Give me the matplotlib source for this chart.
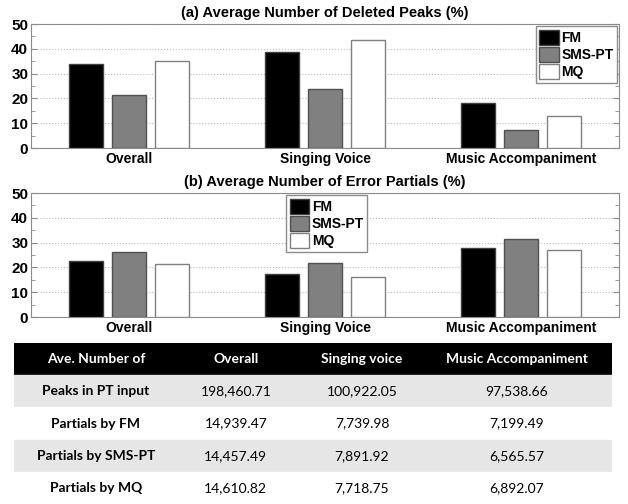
import numpy as np
import matplotlib
matplotlib.use('Agg')
import matplotlib.pyplot as plt
from matplotlib.ticker import MultipleLocator

groups = ['Overall', 'Singing Voice', 'Music Accompaniment']
methods = ['FM', 'SMS-PT', 'MQ']

deleted_fm = [33.7, 38.8, 18.0]
deleted_sms = [21.4, 23.8, 7.3]
deleted_mq = [35.1, 43.4, 13.0]

error_fm = [22.5, 17.3, 27.9]
error_sms = [26.3, 21.8, 31.6]
error_mq = [21.2, 16.1, 27.0]

table_header = ['Ave. Number of', 'Overall', 'Singing voice', 'Music Accompaniment']
row_labels = ['Peaks in PT input', 'Partials by FM', 'Partials by SMS-PT', 'Partials by MQ']
col_overall = ['198,460.71', '14,939.47', '14,457.49', '14,610.82']
col_singing = ['100,922.05', '7,739.98', '7,891.92', '7,718.75']
col_music = ['97,538.66', '7,199.49', '6,565.57', '6,892.07']

face = ['black', '#808080', 'white']
edge = ['#404040', '#505050', '#808080']
spine_col = '#8c8c8c'

fig = plt.figure(figsize=(6.28, 5.04), dpi=100)
plt.rcParams['font.family'] = ['Liberation Sans', 'DejaVu Sans']


def bar_panel(ax, series, title, legend_loc, legend_anchor):
    x = np.arange(1, len(groups) + 1)
    offsets = [-0.22, 0.0, 0.22]
    for k, vals in enumerate(series):
        ax.bar(x + offsets[k], vals, width=0.175, color=face[k],
               edgecolor=edge[k], linewidth=1.0, label=methods[k], zorder=3)
    ax.set_xlim(0.5, 3.5)
    ax.set_ylim(0, 50)
    ax.set_xticks(x)
    ax.set_xticklabels(groups, fontweight='bold', fontsize=10)
    ax.yaxis.set_major_locator(MultipleLocator(10))
    ax.yaxis.set_minor_locator(MultipleLocator(5))
    for lab in ax.get_yticklabels():
        lab.set_fontweight('bold')
        lab.set_fontsize(11)
    ax.tick_params(axis='both', which='both', direction='in', top=True,
                   right=True, color=spine_col, length=3, pad=2)
    ax.tick_params(axis='x', length=0, pad=3)
    ax.tick_params(axis='y', which='major', length=4)
    for s in ax.spines.values():
        s.set_color(spine_col)
    ax.grid(axis='y', linestyle=':', color='#bbbbbb', linewidth=0.8, zorder=0)
    ax.set_title(title, fontweight='bold', fontsize=10.5, pad=5)
    leg = ax.legend(loc=legend_loc, bbox_to_anchor=legend_anchor,
                    prop={'weight': 'bold', 'size': 10}, fancybox=False,
                    framealpha=1, edgecolor=spine_col, handlelength=1.4,
                    handleheight=1.3, handletextpad=0.2, borderpad=0.25,
                    labelspacing=0.15, borderaxespad=0.15)
    leg.get_frame().set_linewidth(1.0)


ax1 = fig.add_axes([0.0494, 0.7063, 0.9363, 0.246])
bar_panel(ax1, [deleted_fm, deleted_sms, deleted_mq],
          '(a) Average Number of Deleted Peaks (%)', 'upper right', (1.0, 1.0))

ax2 = fig.add_axes([0.0494, 0.371, 0.9363, 0.246])
bar_panel(ax2, [error_fm, error_sms, error_mq],
          '(b) Average Number of Error Partials (%)', 'upper center', (0.503, 1.0))

# table
axt = fig.add_axes([14 / 628, 0.0, 598 / 628, 161 / 504])
n_rows = len(row_labels) + 1
axt.set_xlim(0, 1)
axt.set_ylim(n_rows, 0)
axt.axis('off')
col_x = [0.137, 0.371, 0.582, 0.841]
tfont = ['Lato', 'DejaVu Sans']

axt.axhspan(0, 1, color='black')
for j, h in enumerate(table_header):
    axt.text(col_x[j], 0.5, h, color='white', fontweight='bold', fontsize=10,
             ha='center', va='center', family=tfont)

for i, lab in enumerate(row_labels):
    y0 = i + 1
    axt.axhspan(y0, y0 + 1, color='#e6e6e6' if i % 2 == 0 else 'white')
    cells = [lab, col_overall[i], col_singing[i], col_music[i]]
    for j, c in enumerate(cells):
        axt.text(col_x[j], y0 + 0.5, c, color='black',
                 fontweight='bold' if j == 0 else 'normal', fontsize=10,
                 ha='center', va='center', family=tfont)

fig.savefig('out.png', dpi=100)
